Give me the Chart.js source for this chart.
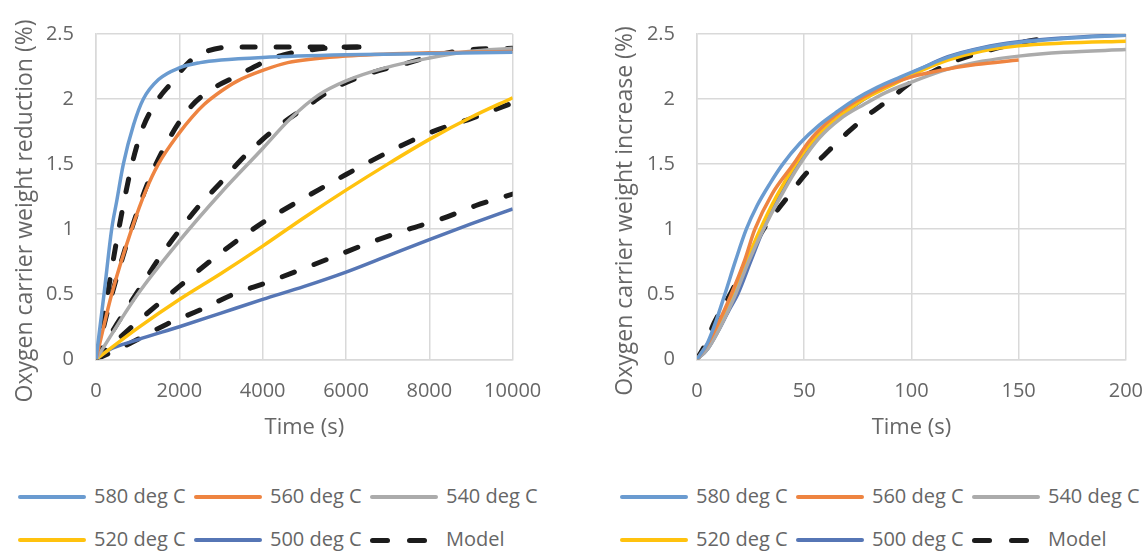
<!DOCTYPE html>
<html><head><meta charset="utf-8">
<script src="https://cdn.jsdelivr.net/npm/chart.js@4.4.1/dist/chart.umd.min.js"></script>
<style>
html,body{margin:0;padding:0;background:#fff;}
#wrap{position:relative;width:1146px;height:551px;overflow:hidden;background:#fff;font-family:'Open Sans',sans-serif;}
.panel{position:absolute;top:0;width:573px;height:460px;}
.lg-line{position:absolute;height:4px;border-radius:2px;}
.lg-text{position:absolute;font-size:20px;color:#666;line-height:24px;white-space:nowrap;}
</style></head><body>
<div id="wrap">
<div class="panel" style="left:0"><canvas id="c1"></canvas></div>
<div class="panel" style="left:573px"><canvas id="c2"></canvas></div>
</div>
<script>
// ---------- labels / colors ----------
const seriesLabels = ['580 deg C','560 deg C','540 deg C','520 deg C','500 deg C','Model'];
const seriesColors = ['#6A9BD0','#EE8441','#ABABAB','#FFC20E','#5676B5','#1C1C1C'];
const leftYTitle = 'Oxygen carrier weight reduction (%)';
const rightYTitle = 'Oxygen carrier weight increase (%)';
const xTitle = 'Time (s)';
const leftXTicks = [0, 2000, 4000, 6000, 8000, 10000];
const rightXTicks = [0, 50, 100, 150, 200];
const yTicks = [0, 0.5, 1, 1.5, 2, 2.5];

// ---------- left chart: reduction (time in s) ----------
const red580T = [0,192,376,500,656,900,1136,1500,2000,2500,3000,4000,6000,8000,10000];
const red580Y = [0,0.5,1.0,1.22,1.5,1.80,2.0,2.15,2.24,2.28,2.30,2.32,2.34,2.35,2.36];
const red560T = [0,376,856,1200,1496,2000,2300,2600,3000,3400,4000,4600,6000,8000,10000];
const red560Y = [0,0.5,1.0,1.3,1.5,1.74,1.86,1.96,2.06,2.14,2.22,2.28,2.33,2.355,2.365];
const red540T = [0,1000,2000,3000,4000,4656,5336,6000,6936,8000,8936,10000];
const red540Y = [0,0.5,0.91,1.28,1.62,1.846,2.03,2.14,2.24,2.315,2.365,2.39];
const red520T = [0,1000,2000,3000,4000,5000,6000,7000,8000,9000,10000];
const red520Y = [0,0.24,0.46,0.66,0.87,1.09,1.30,1.50,1.69,1.86,2.01];
const red500T = [0,300,1000,2000,3000,4000,5000,6000,7000,8000,9000,10000];
const red500Y = [0,0.07,0.15,0.25,0.355,0.46,0.56,0.67,0.795,0.92,1.04,1.155];
const redM580T = [0,250,500,850,1100,1450,1800,2250,2600,3300,4500,6400];
const redM580Y = [0,0.45,0.92,1.48,1.76,1.98,2.12,2.29,2.36,2.40,2.40,2.40];
const redM560T = [0,300,800,1300,1800,2300,2800,3400,4000,4500,5000,5500,6400];
const redM560Y = [0,0.4,0.95,1.4,1.72,1.95,2.08,2.18,2.28,2.34,2.37,2.39,2.40];
const redM540T = [0,500,1000,1500,2000,2500,3000,3500,4000,4500,5000,5700,6500,7400,8200,9000,10000];
const redM540Y = [0,0.27,0.52,0.77,0.99,1.19,1.36,1.54,1.69,1.82,1.93,2.08,2.19,2.27,2.34,2.38,2.39];
const redM520T = [0,1000,2000,3000,4000,5000,6000,7000,8000,9000,10000];
const redM520Y = [0,0.29,0.56,0.82,1.05,1.24,1.42,1.59,1.74,1.85,1.97];
const redM500T = [0,800,1700,2500,3300,4100,5000,5800,6600,7500,8300,9100,10000];
const redM500Y = [0,0.12,0.27,0.38,0.50,0.59,0.70,0.80,0.90,1.00,1.08,1.18,1.27];

// ---------- right chart: increase (time in s) ----------
const inc580T = [0,5,9,13,18,23,28,34,40,48,57,66,74,84,95,105,117,133,150,171,200];
const inc580Y = [0,0.13,0.3,0.5,0.76,1.0,1.18,1.35,1.5,1.66,1.8,1.91,2.0,2.09,2.17,2.24,2.32,2.39,2.435,2.465,2.49];
const inc560T = [0,5,10,16,22,27,35,45,52,60,70,78,88,100,115,130,150];
const inc560Y = [0,0.12,0.28,0.5,0.75,1.0,1.27,1.5,1.67,1.81,1.94,2.02,2.10,2.17,2.225,2.265,2.30];
const inc540T = [0,5,10,18,24,31,39,48,57,67,78,88,100,117,133,150,171,200];
const inc540Y = [0,0.08,0.22,0.5,0.75,1.0,1.25,1.5,1.70,1.85,1.96,2.05,2.13,2.23,2.29,2.33,2.36,2.38];
const inc520T = [0,5,10,17,23,29.5,37,46,54,62,70,78,90,102,117,133,150,171,200];
const inc520Y = [0,0.1,0.26,0.5,0.75,1.0,1.25,1.5,1.68,1.81,1.91,2.0,2.10,2.20,2.30,2.37,2.41,2.43,2.445];
const inc500T = [0,5,10,15,19,25,31,38,47,55,65,78,90,104,117,133,150,171,200];
const inc500Y = [0,0.08,0.22,0.38,0.5,0.75,1.0,1.25,1.5,1.68,1.84,2.0,2.12,2.23,2.325,2.395,2.44,2.47,2.495];
const incModelT = [0,4,8,15.5,23,31,41,51,60,70,80,90,100,110,120,135,150,160,168];
const incModelY = [0,0.12,0.28,0.5,0.75,1.0,1.22,1.43,1.58,1.74,1.88,2.0,2.13,2.21,2.29,2.37,2.43,2.46,2.475];

// ---------- helpers ----------
Chart.defaults.font.family = "'Open Sans', sans-serif";
const TXT = '#666666';
const GRID = '#d9d9d9';
const pts = (ts, ys) => ts.map((t, i) => ({x: t, y: ys[i]}));
function ds(idx, ts, ys) {
  const isModel = idx === 5;
  return {
    label: seriesLabels[idx],
    data: pts(ts, ys),
    borderColor: seriesColors[idx],
    backgroundColor: seriesColors[idx],
    borderWidth: isModel ? 5 : 3.5,
    borderDash: isModel ? [13, 21] : [],
    borderCapStyle: isModel ? 'round' : 'butt',
    borderJoinStyle: 'round',
    pointRadius: 0,
    cubicInterpolationMode: 'monotone',
    fill: false
  };
}
const yTitlePlugin = {
  id: 'yTitle',
  afterDraw(chart, args, o) {
    const ctx = chart.ctx;
    ctx.save();
    ctx.translate(o.x, o.y);
    ctx.rotate(-Math.PI / 2);
    ctx.font = "23px 'Open Sans'";
    ctx.fillStyle = TXT;
    ctx.textAlign = 'center';
    ctx.textBaseline = 'middle';
    ctx.fillText(o.text, 0, 0);
    ctx.restore();
  }
};
function opts(xMax, xTickVals, yWidth, pad, titleX, text) {
  return {
    responsive: true, maintainAspectRatio: false, animation: false,
    layout: {padding: pad},
    plugins: {legend: {display: false}, tooltip: {enabled: false},
      yTitle: {x: titleX, y: 211, text: text}},
    scales: {
      x: {
        type: 'linear', min: 0, max: xMax,
        afterBuildTicks: s => { s.ticks = xTickVals.map(v => ({value: v})); },
        afterFit: s => { s.height = 100.7; },
        grid: {color: GRID, lineWidth: 1.5, drawTicks: false},
        border: {color: GRID, width: 1.5},
        ticks: {color: TXT, font: {size: 20, lineHeight: 2.9}, padding: 3, maxRotation: 0, autoSkip: false,
          callback: v => String(v)},
        title: {display: true, text: xTitle, color: TXT, font: {size: 22},
          padding: {top: 0, bottom: 19}}
      },
      y: {
        min: 0, max: 2.5,
        afterBuildTicks: s => { s.ticks = yTicks.map(v => ({value: v})); },
        afterFit: s => { s.width = yWidth; },
        grid: {color: GRID, lineWidth: 1.5, drawTicks: false},
        border: {color: GRID, width: 1.5},
        ticks: {color: TXT, font: {size: 20}, padding: 22, callback: v => String(v)}
      }
    }
  };
}

// ---------- left chart ----------
new Chart(document.getElementById('c1'), {
  type: 'line',
  data: {datasets: [
    ds(0, red580T, red580Y), ds(1, red560T, red560Y), ds(2, red540T, red540Y),
    ds(3, red520T, red520Y), ds(4, red500T, red500Y),
    ds(5, redM580T, redM580Y), ds(5, redM560T, redM560Y), ds(5, redM540T, redM540Y),
    ds(5, redM520T, redM520Y), ds(5, redM500T, redM500Y)
  ]},
  options: opts(10000, leftXTicks, 84, {left: 12, top: 22, right: 60.3, bottom: 0}, 25.7, leftYTitle),
  plugins: [yTitlePlugin]
});

// ---------- right chart ----------
new Chart(document.getElementById('c2'), {
  type: 'line',
  data: {datasets: [
    ds(0, inc580T, inc580Y), ds(1, inc560T, inc560Y), ds(2, inc540T, inc540Y),
    ds(3, inc520T, inc520Y), ds(4, inc500T, inc500Y), ds(5, incModelT, incModelY)
  ]},
  options: opts(200, rightXTicks, 86.2, {left: 37.8, top: 22, right: 20, bottom: 0}, 52, rightYTitle),
  plugins: [yTitlePlugin]
});

// ---------- legends (HTML) ----------
const wrap = document.getElementById('wrap');
const legendLeft = [18, 620];
const rowsY = [497, 540];
legendLeft.forEach(ox => {
  seriesLabels.forEach((lab, i) => {
    const row = Math.floor(i / 3), col = i % 3;
    const x = ox + col * 176, yc = rowsY[row];
    if (i === 5) {
      [0, 37].forEach(dx => {
        const d = document.createElement('div');
        d.className = 'lg-line';
        d.style.cssText = `left:${x + dx}px;top:${yc - 2.5}px;width:20px;height:5px;border-radius:2.5px;background:${seriesColors[i]}`;
        wrap.appendChild(d);
      });
    } else {
      const l = document.createElement('div');
      l.className = 'lg-line';
      l.style.cssText = `left:${x}px;top:${yc - 2}px;width:68px;background:${seriesColors[i]}`;
      wrap.appendChild(l);
    }
    const t = document.createElement('div');
    t.className = 'lg-text';
    t.style.left = (x + 76) + 'px';
    t.style.top = (yc - 12.6) + 'px';
    t.textContent = lab;
    wrap.appendChild(t);
  });
});
</script>
</body></html>
